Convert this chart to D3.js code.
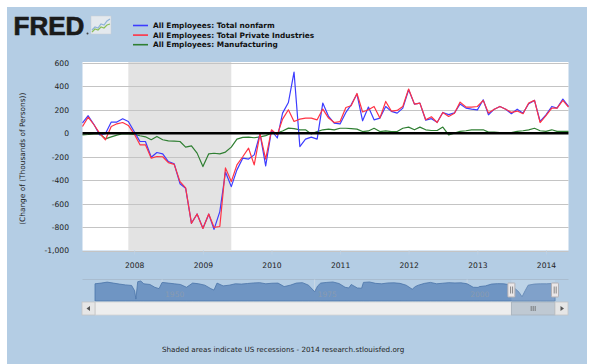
<!DOCTYPE html>
<html><head><meta charset="utf-8">
<script src="https://cdn.jsdelivr.net/npm/d3@7"></script>
<style>
html,body{margin:0;padding:0;background:#fff;}
svg{display:block;}
text{font-family:"DejaVu Sans",Verdana,sans-serif;}
</style></head>
<body>
<svg id="chart" width="591" height="364"></svg>
<script>
// ---------- DATA ----------
const startMonth = [2007, 3];   // April 2007 (month index 3)
const seriesNames = ["All Employees: Total nonfarm","All Employees: Total Private Industries","All Employees: Manufacturing"];
const seriesColors = ["#3c3cff","#ff3344","#2f7f32"];
const nonfarm = [
 90,150,75,-13,-4,96,96,124,101,15,
 -70,-70,-204,-164,-175,-241,-260,-430,-469,-768,
 -688,-810,-690,-820,-668,-330,-455,-312,-212,-220,
 -184,-4,-278,24,-40,172,263,523,-113,-50,
 -33,-50,258,144,87,80,178,243,335,107,
 224,115,130,229,187,172,215,372,249,258,
 112,125,94,178,160,175,250,215,206,200,
 286,158,206,229,206,167,206,172,252,281,
 101,158,229,215,292,229];
const privateInd = [
 58,138,73,2,-55,58,81,92,67,-4,
 -98,-98,-212,-198,-200,-250,-265,-412,-465,-768,
 -688,-812,-688,-802,-795,-295,-412,-269,-200,-127,
 -269,-4,-220,30,-13,121,201,101,121,130,
 130,115,207,130,92,100,220,235,340,182,
 201,229,130,272,190,195,229,378,249,258,
 116,141,92,178,144,172,266,224,224,229,
 281,173,206,229,206,178,190,167,258,281,
 92,150,215,215,281,224];
const manufacturing = [
 -13,-10,-5,-4,-47,-30,-15,-4,-4,-10,
 -21,-30,-55,-27,-55,-64,-66,-70,-118,-107,
 -169,-284,-175,-170,-175,-160,-118,-50,-35,-33,
 -38,-30,-20,0,5,20,44,40,30,30,
 -5,15,30,36,30,43,43,40,36,15,
 20,43,15,20,15,15,43,53,30,53,
 30,24,24,53,-13,2,17,22,30,30,
 30,10,10,6,6,6,17,22,30,43,
 22,17,30,17,17,17];
const yTicks = [-1000,-800,-600,-400,-200,0,200,400,600];
const xTickYears = [2008,2009,2010,2011,2012,2013,2014];
const recession = [[2007,11],[2009,5]]; // Dec 2007 - Jun 2009
// navigator (full history, thousands)
const navYears = [1939,1940,1941,1942,1943,1944,1945,1945.5,1945.7,1946,1946.5,1947,1948,1948.8,1949.5,1950,1951,1952,1953,1954,1955,1956,1957,1958,1958.5,1959,1960,1961,1962,1963,1964,1965,1966,1967,1968,1969,1970,1971,1972,1973,1974,1975,1975.5,1976,1977,1978,1979,1980,1980.6,1981,1982,1982.7,1983,1984,1985,1986,1987,1988,1989,1990,1991,1991.5,1992,1993,1994,1995,1996,1997,1998,1999,2000,2001,2001.8,2002,2003,2004,2005,2006,2007,2008,2008.5,2009,2009.5,2010,2011,2012,2013,2014,2014.4];
const navValues = [200,250,320,250,180,120,80,-300,-900,350,400,200,150,-50,-150,300,250,200,150,-50,250,200,100,-150,-250,250,50,100,200,180,220,260,280,200,240,250,0,100,250,280,100,-370,50,250,300,330,220,-50,-100,150,-100,-120,300,330,230,200,260,270,230,100,-190,0,100,230,300,200,240,280,260,270,200,-50,-60,0,50,180,210,200,120,-200,-400,-730,-300,100,180,200,200,220,230];
const navLabels = [1950,1975,2000];
const footer = "Shaded areas indicate US recessions - 2014 research.stlouisfed.org";
const yTitle = "(Change of (Thousands of Persons))";

// ---------- LAYOUT ----------
const svg = d3.select("#chart");
const P = {left:82.5, right:568.5, top:63, bottom:250.5};

svg.append("rect").attr("x",7).attr("y",7).attr("width",580).attr("height",357).attr("fill","#b4cde4");

const months = d3.utcMonth.range(new Date(Date.UTC(startMonth[0],startMonth[1],1)), new Date(Date.UTC(startMonth[0],startMonth[1]+nonfarm.length,1)));
const x = d3.scaleUtc().domain([months[0], months[months.length-1]]).range([P.left,P.right]);
const y = d3.scaleLinear().domain([-1000,600]).range([P.bottom,P.top]);

// plot background
svg.append("rect").attr("x",P.left).attr("y",P.top-1).attr("width",P.right-P.left).attr("height",P.bottom-P.top+1).attr("fill","#fff");
// recession
const r0 = x(new Date(Date.UTC(recession[0][0],recession[0][1],1)));
const r1 = x(new Date(Date.UTC(recession[1][0],recession[1][1],1)));
svg.append("rect").attr("x",r0).attr("y",P.top-1).attr("width",r1-r0).attr("height",P.bottom-P.top+1).attr("fill","#e3e3e3");

// grid
svg.append("g").selectAll("line").data(yTicks.filter(d=>d!==0)).join("line")
  .attr("x1",P.left).attr("x2",P.right).attr("y1",d=>Math.round(y(d))+0.5).attr("y2",d=>Math.round(y(d))+0.5)
  .attr("stroke","#c4c4c4").attr("stroke-width",1);

// y axis labels
const yAxis = d3.axisLeft(y).tickValues(yTicks).tickSize(0).tickPadding(0).tickFormat(d3.format(",d"));
const ya = svg.append("g").attr("transform",`translate(69,0)`).call(yAxis);
ya.select(".domain").remove();
ya.selectAll("text").attr("font-size","7.6px").attr("fill","#222").attr("font-family","DejaVu Sans").text(d=>d3.format(",d")(d).replace("−","-"));

// y title
svg.append("text").attr("transform",`translate(24.5,${(P.top+P.bottom)/2+2}) rotate(-90)`).attr("text-anchor","middle")
  .attr("font-size","7.4px").attr("fill","#222").text(yTitle);

// x axis
const xa = svg.append("g").attr("transform",`translate(0,${P.bottom})`)
  .call(d3.axisBottom(x).tickValues(xTickYears.map(yr=>new Date(Date.UTC(yr,0,1)))).tickSize(4).tickPadding(8).tickFormat(d3.utcFormat("%Y")));
xa.select(".domain").remove();
xa.selectAll("line").attr("stroke","#c0d0e0");
xa.selectAll("text").attr("font-size","7.6px").attr("fill","#222").attr("font-family","DejaVu Sans");

// series
const allSeries = [nonfarm, privateInd, manufacturing];
const line = d3.line().x((d,i)=>x(months[i])).y(d=>y(d));
[2,0,1].forEach(k=>{
  svg.append("path").datum(allSeries[k]).attr("d",line).attr("fill","none")
    .attr("stroke",seriesColors[k]).attr("stroke-width",1.2).attr("stroke-linejoin","round");
});
// zero line
svg.append("line").attr("x1",P.left).attr("x2",P.right).attr("y1",y(0)).attr("y2",y(0)).attr("stroke","#000").attr("stroke-width",2.4);

// ---------- HEADER ----------
svg.append("text").attr("x",13.5).attr("y",35).attr("font-weight","bold")
  .attr("font-size","26px").attr("fill","#1a1a1a").attr("stroke","#1a1a1a").attr("stroke-width",0.7)
  .style("font-family","'Liberation Sans',Arial,sans-serif").text("FRED");
svg.append("circle").attr("cx",87.5).attr("cy",33.5).attr("r",1).attr("fill","#444");
const icon = svg.append("g").attr("transform","translate(91,16)");
icon.append("rect").attr("width",20).attr("height",18).attr("fill","#e4e9ee").attr("stroke","#c8cdd2").attr("stroke-width",0.5);
icon.append("polyline").attr("points","1,14 4,11 7,12 10,8 13,9 16,5 19,3").attr("fill","none").attr("stroke","#8fb3d9").attr("stroke-width",1.2);
icon.append("polyline").attr("points","1,16 4,13 7,14 10,11 13,12 16,9 19,8").attr("fill","none").attr("stroke","#8cbf5a").attr("stroke-width",1.2);

// legend
const lg = svg.append("g");
seriesNames.forEach((n,i)=>{
  const yy = 25.5 + i*9.6;
  lg.append("line").attr("x1",133).attr("x2",148).attr("y1",yy).attr("y2",yy).attr("stroke",seriesColors[i]).attr("stroke-width",1.6);
  lg.append("text").attr("x",153).attr("y",yy+2.7).attr("font-size","7.4px").attr("font-weight","bold").attr("fill","#111").text(n);
});

// ---------- NAVIGATOR ----------
const N = {left:95, right:555, top:279.5, bottom:301};
svg.append("line").attr("x1",P.left).attr("x2",P.right).attr("y1",N.top).attr("y2",N.top).attr("stroke","#a9bccf").attr("stroke-width",1);
const nx = d3.scaleLinear().domain([1939, 2014.4]).range([N.left,N.right]);
const ny = d3.scaleLinear().domain([-1000,400]).range([300.5,281]).clamp(true);
navLabels.forEach(yr=>{
  svg.append("line").attr("x1",nx(yr)).attr("x2",nx(yr)).attr("y1",N.top).attr("y2",N.bottom).attr("stroke","#c9d7e5").attr("stroke-width",1);
});
const area = d3.area().x((d,i)=>nx(navYears[i])).y0(N.bottom).y1(d=>ny(d));
svg.append("path").datum(navValues).attr("d",area).attr("fill","#6f95c3").attr("stroke","#4a74a8").attr("stroke-width",0.8);
navLabels.forEach(yr=>{
  svg.append("text").attr("x",nx(yr)+3).attr("y",297).attr("font-size","7.5px").attr("fill","#8a9bb0").text(yr);
});
const selA = nx(2007.25), selB = N.right;
svg.append("rect").attr("x",selA).attr("y",N.top+0.5).attr("width",selB-selA).attr("height",N.bottom-N.top-0.5).attr("fill","rgba(255,255,255,0.12)");
[selA, selB].forEach(hx=>{
  const g = svg.append("g");
  g.append("rect").attr("x",hx-3.5).attr("y",283).attr("width",7).attr("height",14).attr("fill","#ebe7e8").attr("stroke","#b2b1b6").attr("stroke-width",1).attr("rx",0.5);
  g.append("line").attr("x1",hx-0.8).attr("x2",hx-0.8).attr("y1",286.5).attr("y2",293.5).attr("stroke","#888");
  g.append("line").attr("x1",hx+1.2).attr("x2",hx+1.2).attr("y1",286.5).attr("y2",293.5).attr("stroke","#888");
});
// scrollbar
const S = {top:302, h:13};
svg.append("rect").attr("x",95).attr("y",S.top).attr("width",selA-95).attr("height",S.h).attr("fill","#eeeeee").attr("stroke","#d2d2d2").attr("stroke-width",0.8);
svg.append("rect").attr("x",82).attr("y",S.top).attr("width",13).attr("height",S.h).attr("fill","#e6e6e6").attr("stroke","#c4c4c4").attr("stroke-width",0.8);
svg.append("path").attr("d",`M86.5,${S.top+6.5} L90,${S.top+4} L90,${S.top+9} Z`).attr("fill","#555");
svg.append("rect").attr("x",selA).attr("y",S.top).attr("width",selB-selA).attr("height",S.h).attr("fill","#bfc9d3").attr("stroke","#a8b2bc").attr("stroke-width",0.8);
[-2,0,2].forEach(o=>{
  const cx = (selA+selB)/2 + o;
  svg.append("line").attr("x1",cx).attr("x2",cx).attr("y1",S.top+4).attr("y2",S.top+9).attr("stroke","#666").attr("stroke-width",0.8);
});
svg.append("rect").attr("x",555).attr("y",S.top).attr("width",13).attr("height",S.h).attr("fill","#e6e6e6").attr("stroke","#c4c4c4").attr("stroke-width",0.8);
svg.append("path").attr("d",`M564,${S.top+6.5} L560.5,${S.top+4} L560.5,${S.top+9} Z`).attr("fill","#555");

// footer
svg.append("text").attr("x",162).attr("y",352).attr("font-size","7.2px").attr("fill","#222").text(footer);
</script>
</body></html>
